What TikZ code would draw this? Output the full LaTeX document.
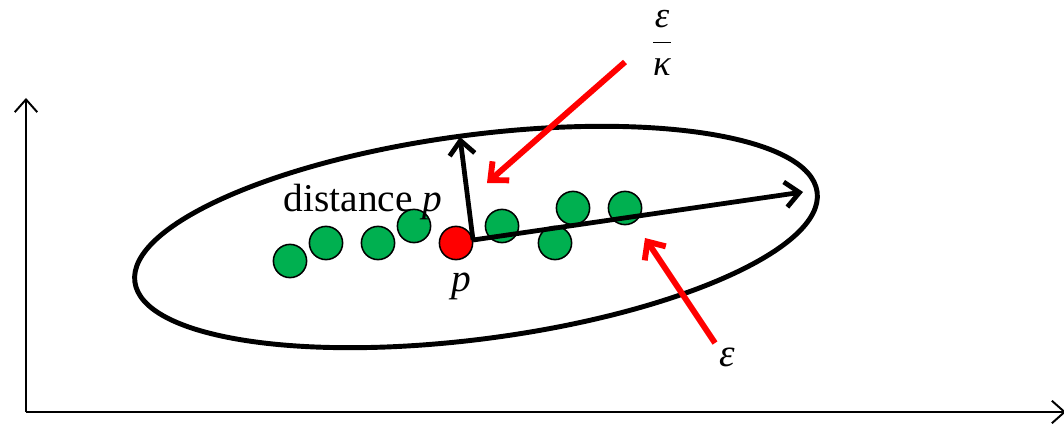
\documentclass[tikz,border=0pt]{standalone}
\usepackage{amsmath}
\usepackage{fontspec}
\setmainfont{Liberation Serif}
\usepackage{xcolor}
\usetikzlibrary{arrows.meta}
\definecolor{ptgreen}{RGB}{0,176,80}

\begin{document}
\begin{tikzpicture}[x=0.025cm, y=-0.025cm,
    greenpt/.style={circle, draw=black, line width=1.1pt, fill=ptgreen, inner sep=0pt, minimum size=0.83cm},
    redpt/.style={greenpt, fill=red},
    axisline/.style={line width=1.4pt, -{Straight Barb[length=9pt,width=16pt]}},
    vec/.style={line width=3.4pt, -{Straight Barb[length=10pt,width=18pt]}},
    pointer/.style={red, line width=4.2pt, -{Straight Barb[length=10pt,width=18pt]}},
    lbl/.style={font=\fontsize{28}{34}\selectfont, inner sep=0pt}]
        \useasboundingbox (0,0) rectangle (1064,425);
        % axes
        \coordinate (orig) at (26,412);
        \coordinate (ytip) at (26,98);
        \coordinate (xtip) at (1066,412);
        \draw[axisline] (orig) -- (ytip);
        \draw[axisline] (orig) -- (xtip);
        % ellipse of the cluster
        \draw[line width=3.5pt, rotate around={7.5:(476,237)}] (476,237) ellipse [x radius=8.6cm, y radius=2.55cm];
        % samples
        \foreach \p [count=\i] in {(290,261),(326,243),(378,243),(414,226),(502,226),(555,243),(573,208),(625,208)}
            {\node[greenpt] (g\i) at \p {};}
        \node[redpt] (p) at (456,243) {};
        % vectors from p
        \coordinate (o) at (473,240);
        \coordinate (far) at (803,192);
        \coordinate (up) at (460,137);
        \draw[vec] (o) -- (far);
        \draw[vec] (o) -- (up);
        % labels
        \node[lbl, anchor=base] (dist) at (363,212) {distance \textit{p}};
        \node[lbl, anchor=base] (plbl) at (461,292) {\textit{p}};
        \node[lbl, anchor=base] (eps) at (727,367) {\textit{ε}};
        \node[inner sep=0pt, font=\fontsize{26}{30}\selectfont] (frac) at (662,43) {$\dfrac{\text{\textit{ε}}}{\text{\textit{κ}}}$};
        % pointers
        \coordinate (k0) at (625,62);
        \coordinate (k1) at (487,183);
        \coordinate (e0) at (715,343);
        \coordinate (e1) at (645,238);
        \draw[pointer] (k0) -- (k1);
        \draw[pointer] (e0) -- (e1);
    \end{tikzpicture}
\end{document}
